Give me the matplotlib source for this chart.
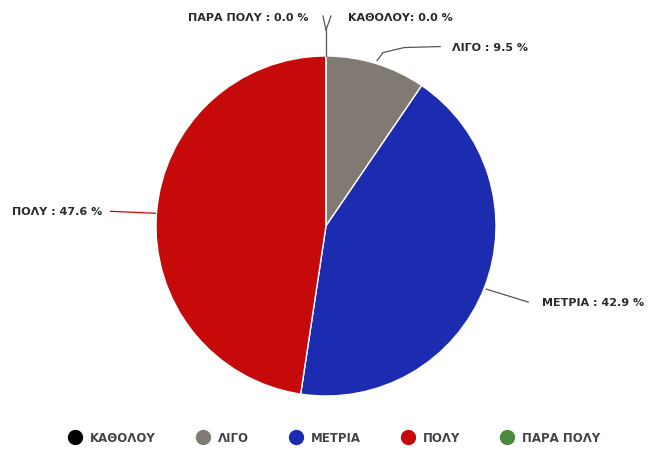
import numpy as np
import matplotlib.pyplot as plt
from matplotlib.lines import Line2D

labels = ["ΚΑΘΟΛΟΥ", "ΛΙΓΟ", "ΜΕΤΡΙΑ", "ΠΟΛΥ", "ΠΑΡΑ ΠΟΛΥ"]
counts = [0, 2, 9, 10, 0]
colors = ["#000000", "#807a72", "#1c2cb0", "#c60a0a", "#4b8a3c"]

plt.rcParams["font.family"] = ["DejaVu Sans"]

fig = plt.figure(figsize=(6.48, 4.5), dpi=100)
ax = fig.add_axes([0, 0, 1, 1])

cx, cy, r = 326, 224, 170
wedges, _ = ax.pie(counts, colors=colors, startangle=90, counterclock=False,
                   center=(cx, cy), radius=r, frame=True,
                   wedgeprops=dict(edgecolor="white", linewidth=1))
ax.set_xlim(0, 648)
ax.set_ylim(0, 450)
ax.set_aspect("equal")
ax.axis("off")

total = sum(counts)
pct = [100 * c / total for c in counts]
text_kw = dict(fontsize=8, fontweight="bold", color="#2a2a2a", va="center")
line_kw = dict(color="#555555", lw=0.9)

# angle (deg, clockwise from 12 o'clock) at the middle of each slice
cum = np.cumsum([0] + pct)
mids = [(cum[i] + cum[i + 1]) / 2 * 3.6 for i in range(len(pct))]


def edge(angle):
    a = np.radians(angle)
    return cx + r * np.sin(a), cy + r * np.cos(a)


# zero slices at the top: split leader
x0, y0 = edge(mids[0])
ax.plot([x0, x0], [y0, y0 + 26], **line_kw)
ax.plot([x0, x0 - 3], [y0 + 26, y0 + 40], **line_kw)
ax.plot([x0, x0 + 5], [y0 + 26, y0 + 40], **line_kw)
ax.text(x0 + 22, y0 + 38, f"{labels[0]}: {pct[0]:.1f} %", ha="left", **text_kw)
ax.text(x0 - 18, y0 + 38, f"{labels[4]} : {pct[4]:.1f} %", ha="right", **text_kw)

# ΛΙΓΟ
x1, y1 = edge(mids[1])
ax.plot([x1 + 1, x1 + 7, x1 + 28, x1 + 64], [y1 + 3, y1 + 11, y1 + 16, y1 + 17], **line_kw)
ax.text(x1 + 76, y1 + 16, f"{labels[1]} : {pct[1]:.1f} %", ha="left", **text_kw)

# ΜΕΤΡΙΑ
x2, y2 = edge(mids[2])
ax.plot([x2 + 2, x2 + 44], [y2 - 1, y2 - 14], **line_kw)
ax.text(x2 + 58, y2 - 15, f"{labels[2]} : {pct[2]:.1f} %", ha="left", **text_kw)

# ΠΟΛΥ
x3, y3 = edge(mids[3])
ax.plot([x3 - 1, x3 - 46], [y3, y3 + 2], color="#c60a0a", lw=0.9)
ax.text(x3 - 54, y3 + 1, f"{labels[3]} : {pct[3]:.1f} %", ha="right", **text_kw)

handles = [Line2D([], [], marker="o", ls="none", markersize=10,
                  markerfacecolor=c, markeredgecolor=c) for c in colors]
ax.legend(handles, labels, loc="center", bbox_to_anchor=(0.512, 12 / 450),
          bbox_transform=fig.transFigure, ncol=5, frameon=False,
          handletextpad=0.25, columnspacing=3.0,
          prop=dict(weight="bold", size=8.5), labelcolor="#444444")

fig.savefig("out.png", dpi=100, facecolor="white")
